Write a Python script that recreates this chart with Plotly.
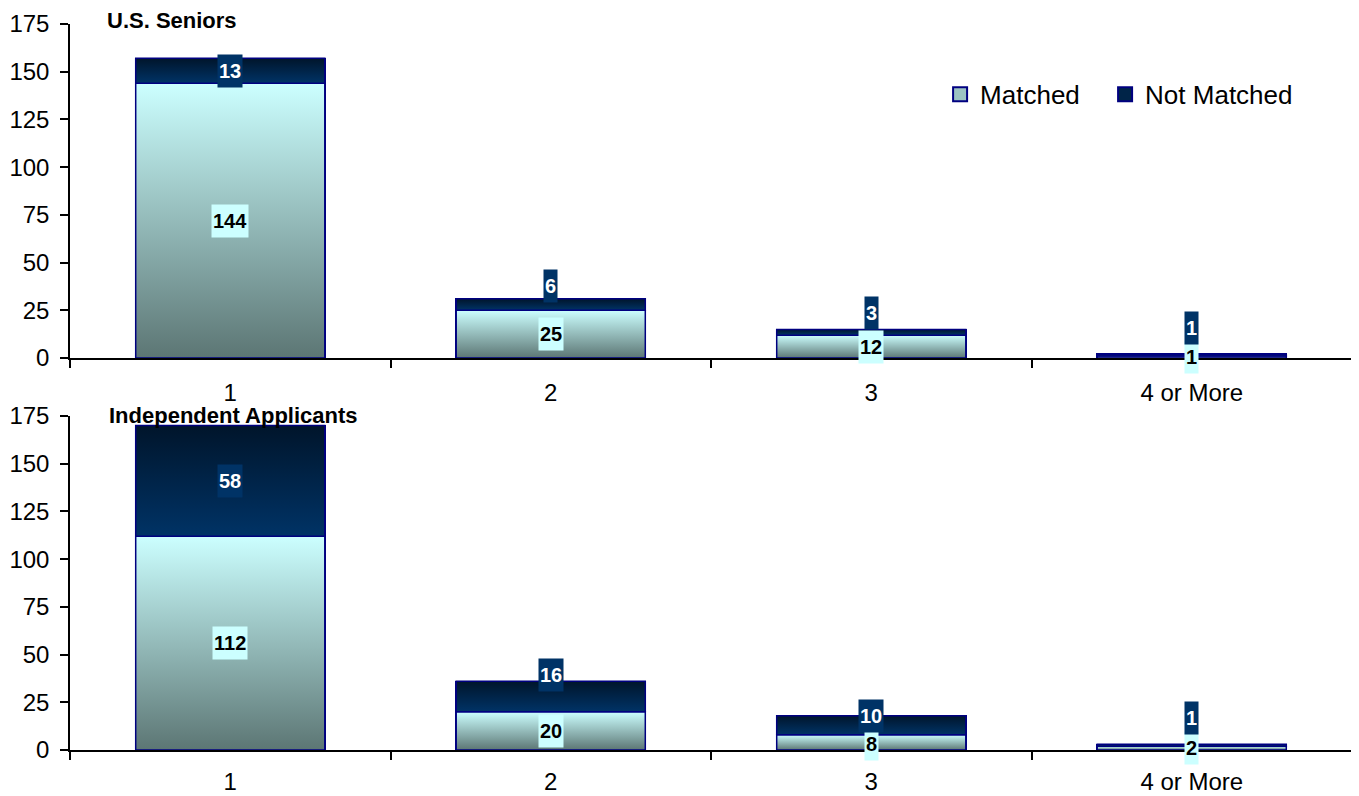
import plotly.graph_objects as go

# ---------------- data ----------------
categories = ["1", "2", "3", "4 or More"]
panel_titles = ["U.S. Seniors", "Independent Applicants"]
series_names = ["Matched", "Not Matched"]
seniors_matched = [144, 25, 12, 1]
seniors_not_matched = [13, 6, 3, 1]
independent_matched = [112, 20, 8, 2]
independent_not_matched = [58, 16, 10, 1]
y_ticks = [0, 25, 50, 75, 100, 125, 150, 175]

# ---------------- style ----------------
FONT = "Liberation Sans, Arial, sans-serif"
NAVY = "#000080"
BAR_W = 0.59
M_TOP, M_BOT = "#ccffff", "#5c7674"
N_TOP, N_BOT = "#00152b", "#003366"
M_SOLID, N_SOLID = "#9cc3c2", "#002448"
# label pixel offsets (Excel pushes small labels apart)
nm_shift = [[0, 19, 19, 27], [0, 22, 9, 27]]
m_shift = [[0, 0, 0, 0], [0, 0, -2, 0]]

panels = [
    (seniors_matched, seniors_not_matched, "x", "y"),
    (independent_matched, independent_not_matched, "x2", "y2"),
]

fig = go.Figure()
idx = list(range(len(categories)))

for p, (matched, not_matched, xa, ya) in enumerate(panels):
    fig.add_trace(go.Bar(x=idx, y=matched, name=series_names[0], width=BAR_W,
                         marker=dict(color=M_SOLID, line=dict(color=NAVY, width=1.5)),
                         xaxis=xa, yaxis=ya, showlegend=False, hoverinfo="skip"))
    fig.add_trace(go.Bar(x=idx, y=not_matched, name=series_names[1], width=BAR_W,
                         marker=dict(color=N_SOLID, line=dict(color=NAVY, width=1.5)),
                         xaxis=xa, yaxis=ya, showlegend=False, hoverinfo="skip"))

# gradient overlays built from the same data
for p, (matched, not_matched, xa, ya) in enumerate(panels):
    for i in idx:
        segs = [(0, matched[i], M_BOT, M_TOP),
                (matched[i], matched[i] + not_matched[i], N_BOT, N_TOP)]
        for base, top, cb, ct in segs:
            x0, x1 = i - BAR_W / 2, i + BAR_W / 2
            fig.add_trace(go.Scatter(
                x=[x0, x1, x1, x0, x0], y=[base, base, top, top, base],
                mode="lines", fill="toself",
                fillgradient=dict(type="vertical", colorscale=[[0, cb], [1, ct]]),
                line=dict(color=NAVY, width=1.5),
                xaxis=xa, yaxis=ya, showlegend=False, hoverinfo="skip"))

# legend entries (square swatches like the original legend keys)
for name, col, lg in [(series_names[0], M_SOLID, "legend"),
                      (series_names[1], N_SOLID, "legend2")]:
    fig.add_trace(go.Scatter(x=[None], y=[None], mode="markers", name=name,
                             marker=dict(symbol="square", size=14, color=col,
                                         line=dict(color=NAVY, width=2)),
                             legend=lg, showlegend=True, hoverinfo="skip"))

annotations = []
for p, (matched, not_matched, xa, ya) in enumerate(panels):
    for i in idx:
        annotations.append(dict(
            x=i, y=matched[i] / 2, xref=xa, yref=ya, text=str(matched[i]),
            showarrow=False, bgcolor=M_TOP, borderpad=1, height=30,
            yshift=m_shift[p][i],
            font=dict(family=FONT, size=20, color="black", weight="bold")))
        annotations.append(dict(
            x=i, y=matched[i] + not_matched[i] / 2, xref=xa, yref=ya,
            text=str(not_matched[i]), showarrow=False, bgcolor="#003366",
            borderpad=1, height=30, yshift=nm_shift[p][i],
            font=dict(family=FONT, size=20, color="white", weight="bold")))

annotations.append(dict(x=0.0273, y=1.0055, xref="paper", yref="paper",
                        xanchor="left", yanchor="middle", showarrow=False,
                        text=panel_titles[0],
                        font=dict(family=FONT, size=22, color="black", weight="bold")))
annotations.append(dict(x=0.0289, y=0.4614, xref="paper", yref="paper",
                        xanchor="left", yanchor="middle", showarrow=False,
                        text=panel_titles[1],
                        font=dict(family=FONT, size=22, color="black", weight="bold")))

xcommon = dict(range=[-0.5, len(categories) - 0.5], tickmode="array", tickvals=idx,
               ticktext=categories, ticks="", showgrid=False, zeroline=False,
               showline=True, linecolor="black", linewidth=1.5, automargin=False,
               tickfont=dict(family=FONT, size=24, color="black"),
               minor=dict(ticks="outside", ticklen=8, tickwidth=1.5, tickcolor="black",
                          tickmode="array",
                          tickvals=[i - 0.5 for i in range(len(categories) + 1)],
                          showgrid=False))
ycommon = dict(range=[0, 175], tickmode="array", tickvals=y_ticks, ticks="outside",
               ticklen=8, tickwidth=1.5, tickcolor="black", showgrid=False,
               zeroline=False, showline=True, linecolor="black", linewidth=1.5,
               automargin=False,
               tickfont=dict(family=FONT, size=24, color="black"),
               ticklabelstandoff=6)

legend_common = dict(orientation="h", y=0.903, xanchor="left", yanchor="middle",
                     font=dict(family=FONT, size=26, color="black"),
                     bgcolor="rgba(0,0,0,0)", itemwidth=30, itemsizing="trace")

# the page body adds an 8px offset, so the figure is sized to fit the window
fig.update_layout(
    width=1351, height=788,
    margin=dict(l=62, r=7, t=16, b=46),
    paper_bgcolor="white", plot_bgcolor="white",
    barmode="stack",
    font=dict(family=FONT, size=24, color="black"),
    xaxis=dict(domain=[0, 1], anchor="y", ticklabelstandoff=12, **xcommon),
    yaxis=dict(domain=[0.5399, 1], anchor="x", **ycommon),
    xaxis2=dict(domain=[0, 1], anchor="y2", ticklabelstandoff=9, **xcommon),
    yaxis2=dict(domain=[0, 0.46006], anchor="x2", **ycommon),
    legend=dict(x=0.6787, **legend_common),
    legend2=dict(x=0.8074, **legend_common),
    annotations=annotations,
    showlegend=True,
)

fig.write_html("out.html")
